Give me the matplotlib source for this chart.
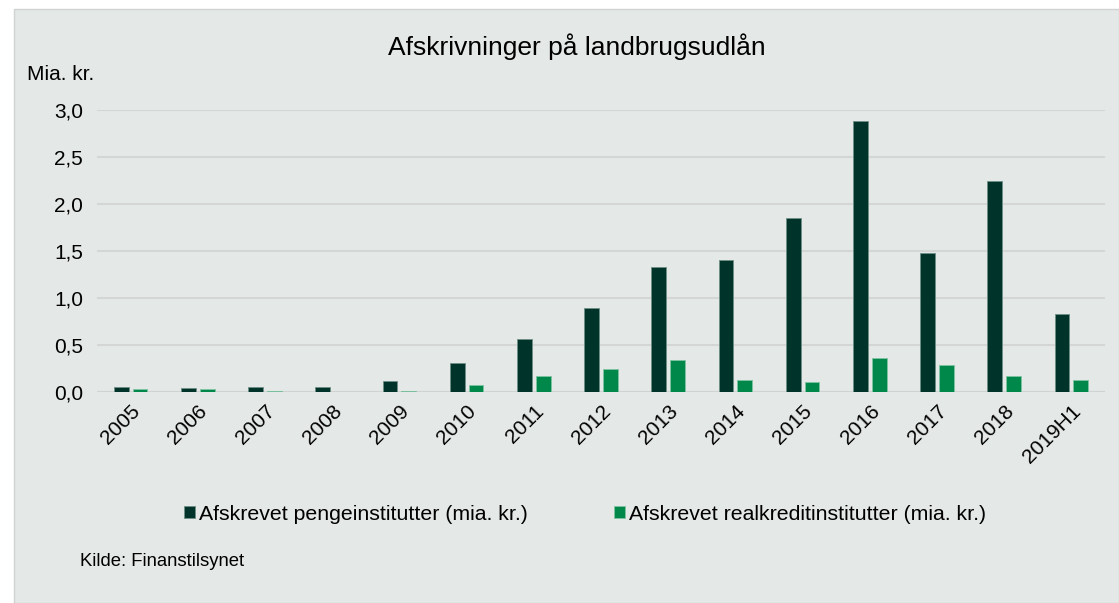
import matplotlib.pyplot as plt
import matplotlib.patches as mpatches
import numpy as np

plt.rcParams['font.family'] = ['Liberation Sans', 'DejaVu Sans']

years = ["2005", "2006", "2007", "2008", "2009", "2010", "2011", "2012",
         "2013", "2014", "2015", "2016", "2017", "2018", "2019H1"]
penge = [0.05, 0.04, 0.05, 0.05, 0.12, 0.31, 0.56, 0.89,
         1.33, 1.40, 1.85, 2.88, 1.48, 2.24, 0.83]
realkredit = [0.03, 0.03, 0.01, 0.0, 0.01, 0.07, 0.17, 0.25,
              0.34, 0.13, 0.11, 0.36, 0.29, 0.17, 0.13]

bg = "#e4e8e6"
dark = "#00332a"
light = "#00884b"

fig = plt.figure(figsize=(11.19, 6.03), dpi=100, facecolor="white")
# grey panel behind everything
fig.patches.append(mpatches.Rectangle((14 / 1119, 0), 1 - 14 / 1119, 1 - 9 / 603,
                                      transform=fig.transFigure, facecolor=bg,
                                      edgecolor="#cfd3d1", linewidth=1, zorder=-5))

ax = fig.add_axes([97 / 1119, 1 - 392 / 603, 1008 / 1119, (392 - 110) / 603])
ax.set_zorder(2)
ax.set_facecolor(bg)

x = np.arange(len(years))
w = 0.22
ax.bar(x - 0.14, penge, w, color=dark, edgecolor="#6f8f86", linewidth=0.6,
       label="Afskrevet pengeinstitutter (mia. kr.)", zorder=3)
ax.bar(x + 0.14, realkredit, w, color=light, edgecolor="#7fc4a2", linewidth=0.6,
       label="Afskrevet realkreditinstitutter (mia. kr.)", zorder=3)

ax.set_xlim(-0.5, len(years) - 0.5)
ax.set_ylim(0, 3.0)
yt = np.arange(0, 3.01, 0.5)
ax.set_yticks(yt)
ax.set_yticklabels([f"{v:.1f}".replace(".", ",") for v in yt], fontsize=15)
ax.yaxis.grid(True, color="#d3d6d4", linewidth=1.5, zorder=0)
ax.set_axisbelow(True)
ax.set_xticks(x)
ax.set_xticklabels(years, rotation=45, ha="right", rotation_mode="anchor", fontsize=15)
ax.tick_params(axis="y", length=0, pad=10)
ax.tick_params(axis="x", length=0, pad=7)
for s in ax.spines.values():
    s.set_visible(False)
ax.axhline(0, color="#cfd3d1", linewidth=1.5, zorder=2)

fig.text(577 / 1119, 1 - 47 / 603, "Afskrivninger på landbrugsudlån",
         ha="center", va="center", fontsize=19)
fig.text(27 / 1119, 1 - 75 / 603, "Mia. kr.", ha="left", va="center", fontsize=15)
fig.text(80 / 1119, 1 - 562 / 603, "Kilde: Finanstilsynet", ha="left", va="center", fontsize=13.3)

fig.legend(loc="center", bbox_to_anchor=(585 / 1119, 1 - 514 / 603), ncol=2,
           frameon=False, fontsize=15.3, handlelength=0.5, handleheight=0.5,
           handletextpad=0.2, columnspacing=4.05)

fig.savefig("out.png", dpi=100, facecolor="white")
